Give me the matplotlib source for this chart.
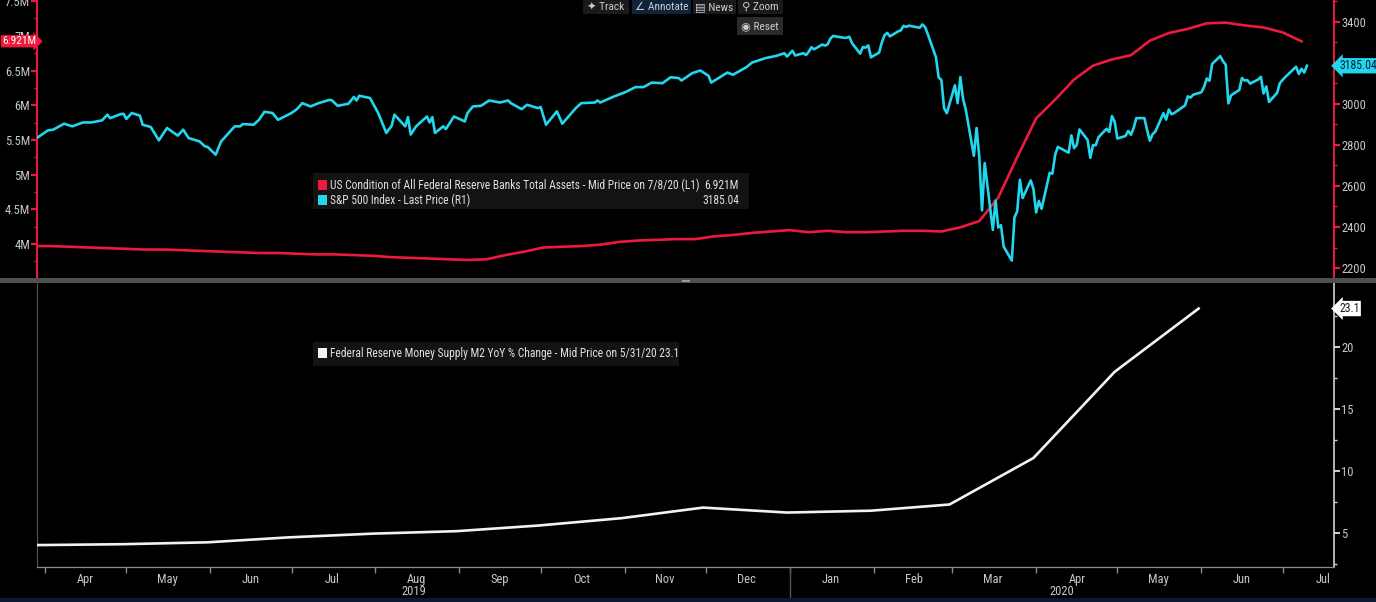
"""
Fed balance sheet vs S&P 500 (top) and M2 YoY growth (bottom),
styled like a Bloomberg terminal chart.
"""

import pandas as pd
import matplotlib
matplotlib.use("Agg")
import matplotlib.pyplot as plt
import matplotlib.dates as mdates
from matplotlib.patches import Rectangle
from matplotlib.ticker import MultipleLocator, FixedLocator, FuncFormatter, NullFormatter
from matplotlib.transforms import blended_transform_factory as blend

plt.rcParams["font.family"] = ["Roboto Condensed", "Liberation Sans Narrow",
                               "Liberation Sans", "DejaVu Sans"]

# ── Data ──────────────────────────────────────────────────────────────────────

# Fed total assets, weekly (Wednesdays), in M (millions of $mn)
fed_dates = pd.date_range("2019-03-27", "2020-07-08", freq="7D")
fed_assets = [
    3.97, 3.97, 3.96, 3.95, 3.94,
    3.93, 3.92, 3.92, 3.91, 3.90,
    3.89, 3.88, 3.87, 3.87,
    3.86, 3.85, 3.85, 3.84, 3.83,
    3.81, 3.80, 3.79, 3.78,
    3.77, 3.78, 3.84, 3.89,
    3.95, 3.96, 3.97, 3.99, 4.03,
    4.05, 4.06, 4.07, 4.07,
    4.11, 4.13, 4.16, 4.18,
    4.20, 4.17, 4.19, 4.17, 4.17,
    4.18, 4.19, 4.19, 4.18,
    4.24, 4.33, 4.67, 5.25,
    5.81, 6.08, 6.37, 6.57, 6.66,
    6.72, 6.93, 7.04, 7.10,
    7.18, 7.19, 7.15, 7.12,
    7.05, 6.921,
]

# S&P 500 closes
spx_dates = pd.to_datetime([
    "2019-03-29", "2019-04-02", "2019-04-04", "2019-04-08", "2019-04-11",
    "2019-04-15", "2019-04-18", "2019-04-22", "2019-04-24", "2019-04-25",
    "2019-04-29", "2019-04-30", "2019-05-01", "2019-05-03", "2019-05-06",
    "2019-05-07", "2019-05-10", "2019-05-13", "2019-05-16", "2019-05-20",
    "2019-05-22", "2019-05-24", "2019-05-28", "2019-05-30", "2019-05-31",
    "2019-06-03", "2019-06-05", "2019-06-10", "2019-06-12", "2019-06-13",
    "2019-06-17", "2019-06-19", "2019-06-21", "2019-06-24", "2019-06-26",
    "2019-07-01", "2019-07-03", "2019-07-05", "2019-07-08", "2019-07-11",
    "2019-07-15", "2019-07-16", "2019-07-18", "2019-07-22", "2019-07-24",
    "2019-07-25", "2019-07-26", "2019-07-30", "2019-08-02", "2019-08-05",
    "2019-08-07", "2019-08-08", "2019-08-12", "2019-08-13", "2019-08-14",
    "2019-08-16", "2019-08-20", "2019-08-21", "2019-08-22", "2019-08-23",
    "2019-08-26", "2019-08-27", "2019-08-30", "2019-09-03", "2019-09-04",
    "2019-09-06", "2019-09-09", "2019-09-12", "2019-09-16", "2019-09-19",
    "2019-09-20", "2019-09-24", "2019-09-26", "2019-09-30", "2019-10-01",
    "2019-10-03", "2019-10-07", "2019-10-09", "2019-10-14", "2019-10-16",
    "2019-10-21", "2019-10-22", "2019-10-23", "2019-10-28", "2019-11-01",
    "2019-11-05", "2019-11-08", "2019-11-11", "2019-11-15", "2019-11-18",
    "2019-11-21", "2019-11-22", "2019-11-26", "2019-11-29", "2019-12-02",
    "2019-12-03", "2019-12-09", "2019-12-11", "2019-12-16", "2019-12-18",
    "2019-12-23", "2019-12-27", "2019-12-30", "2019-12-31",
    "2020-01-02", "2020-01-03", "2020-01-06", "2020-01-07", "2020-01-08",
    "2020-01-09", "2020-01-10", "2020-01-13", "2020-01-14", "2020-01-15",
    "2020-01-16", "2020-01-17", "2020-01-21", "2020-01-22", "2020-01-23",
    "2020-01-24", "2020-01-27", "2020-01-28", "2020-01-29", "2020-01-30",
    "2020-01-31", "2020-02-03", "2020-02-04", "2020-02-05", "2020-02-06",
    "2020-02-07", "2020-02-10", "2020-02-11", "2020-02-12", "2020-02-13",
    "2020-02-14", "2020-02-18", "2020-02-19", "2020-02-20", "2020-02-21",
    "2020-02-24", "2020-02-25", "2020-02-26", "2020-02-27", "2020-02-28",
    "2020-03-02", "2020-03-03", "2020-03-04", "2020-03-05", "2020-03-06",
    "2020-03-09", "2020-03-10", "2020-03-11", "2020-03-12", "2020-03-13",
    "2020-03-16", "2020-03-17", "2020-03-18", "2020-03-19", "2020-03-20",
    "2020-03-23", "2020-03-24", "2020-03-25", "2020-03-26", "2020-03-27",
    "2020-03-30", "2020-03-31", "2020-04-01", "2020-04-02", "2020-04-03",
    "2020-04-06", "2020-04-07", "2020-04-08", "2020-04-09", "2020-04-13",
    "2020-04-14", "2020-04-15", "2020-04-16", "2020-04-17", "2020-04-20",
    "2020-04-21", "2020-04-22", "2020-04-23", "2020-04-24", "2020-04-27",
    "2020-04-28", "2020-04-29", "2020-04-30", "2020-05-01", "2020-05-04",
    "2020-05-05", "2020-05-06", "2020-05-07", "2020-05-08", "2020-05-11",
    "2020-05-12", "2020-05-13", "2020-05-14", "2020-05-15", "2020-05-18",
    "2020-05-19", "2020-05-20", "2020-05-21", "2020-05-22", "2020-05-26",
    "2020-05-27", "2020-05-28", "2020-05-29", "2020-06-01", "2020-06-02",
    "2020-06-03", "2020-06-04", "2020-06-05", "2020-06-08", "2020-06-09",
    "2020-06-10", "2020-06-11", "2020-06-12", "2020-06-15", "2020-06-16",
    "2020-06-17", "2020-06-18", "2020-06-19", "2020-06-22", "2020-06-23",
    "2020-06-24", "2020-06-25", "2020-06-26", "2020-06-29", "2020-06-30",
    "2020-07-01", "2020-07-02", "2020-07-06", "2020-07-07", "2020-07-08",
    "2020-07-09", "2020-07-10",
])
spx_close = [
    2834, 2870, 2874, 2903, 2890, 2909, 2909, 2919, 2947, 2930,
    2950, 2951, 2926, 2955, 2942, 2898, 2887, 2822, 2882, 2845,
    2874, 2833, 2817, 2793, 2790, 2752, 2817, 2890, 2890, 2901,
    2898, 2922, 2961, 2955, 2922, 2955, 2974, 3003, 2987, 3003,
    3019, 3016, 2990, 3000, 3033, 3016, 3039, 3028, 2955, 2858,
    2893, 2947, 2890, 2935, 2850, 2890, 2938, 2909, 2935, 2858,
    2890, 2877, 2938, 2914, 2955, 2987, 2990, 3016, 3006, 3016,
    3003, 2974, 2995, 2979, 2984, 2898, 2963, 2903, 2979, 3003,
    3006, 3016, 3006, 3035, 3055, 3081, 3081, 3103, 3100, 3129,
    3125, 3113, 3149, 3162, 3136, 3103, 3152, 3141, 3178, 3200,
    3222, 3233, 3246, 3230,
    3258, 3235, 3246, 3237, 3253, 3275, 3265, 3288, 3283, 3289,
    3317, 3330, 3321, 3321, 3326, 3295, 3244, 3276, 3273, 3284,
    3226, 3249, 3298, 3334, 3345, 3328, 3352, 3357, 3379, 3374,
    3380, 3370, 3386, 3373, 3338, 3226, 3128, 3116, 2979, 2954,
    3090, 3003, 3130, 3024, 2972, 2747, 2882, 2741, 2481, 2711,
    2386, 2529, 2398, 2409, 2305, 2237, 2447, 2476, 2630, 2541,
    2627, 2585, 2471, 2527, 2489, 2664, 2660, 2750, 2790, 2762,
    2846, 2784, 2800, 2875, 2824, 2737, 2799, 2798, 2837, 2878,
    2863, 2940, 2912, 2831, 2843, 2868, 2849, 2882, 2930, 2930,
    2870, 2820, 2852, 2864, 2954, 2923, 2972, 2949, 2955, 2992,
    3036, 3030, 3044, 3056, 3081, 3123, 3112, 3194, 3232, 3207,
    3190, 3002, 3041, 3067, 3125, 3113, 3115, 3098, 3118, 3131,
    3050, 3084, 3009, 3053, 3100, 3116, 3130, 3180, 3145, 3170,
    3152, 3185.04,
]

# M2 money supply YoY % change, month ends
m2_dates = pd.to_datetime([
    "2019-02-28", "2019-03-31", "2019-04-30", "2019-05-31", "2019-06-30",
    "2019-07-31", "2019-08-31", "2019-09-30", "2019-10-31", "2019-11-30",
    "2019-12-31", "2020-01-31", "2020-02-29", "2020-03-31", "2020-04-30",
    "2020-05-31",
])
m2_yoy = [4.0, 4.03, 4.1, 4.25, 4.65, 4.95, 5.15, 5.6, 6.2, 7.05,
          6.65, 6.8, 7.3, 11.05, 18.0, 23.1]

FED_LABEL = "US Condition of All Federal Reserve Banks Total Assets - Mid Price on 7/8/20 (L1)"
SPX_LABEL = "S&P 500 Index - Last Price (R1)"
M2_LABEL = "Federal Reserve Money Supply M2 YoY % Change - Mid Price on 5/31/20"

# ── Style ─────────────────────────────────────────────────────────────────────

RED = "#EE1A3E"
CYAN = "#22D6EE"
WHITE = "#F2F2F2"
TXT = "#C8C8C8"
BG = "#000000"

W, H = 1376, 602


def fx(px):
    return px / W


def fy(py):
    return 1 - py / H


fig = plt.figure(figsize=(W / 100, H / 100), dpi=100, facecolor=BG)

x0, x1 = 37, 1334
ax_l = fig.add_axes([fx(x0), fy(278), fx(x1 - x0), 278 / H], facecolor=BG)
ax_r = ax_l.twinx()
ax_b = fig.add_axes([fx(x0), fy(567), fx(x1 - x0), (567 - 283) / H], facecolor=BG)

xlim = (pd.Timestamp("2019-03-29"), pd.Timestamp("2020-07-20"))

# ── Top panel: Fed assets (L) and S&P 500 (R) ────────────────────────────────

ax_l.plot(fed_dates, fed_assets, color=RED, lw=1.9, zorder=3)
ax_r.plot(spx_dates, spx_close, color=CYAN, lw=1.9, zorder=3)

ax_l.set_xlim(*xlim)
ax_l.set_ylim(3.51, 7.516)
ax_r.set_ylim(2152, 3505)

ax_l.yaxis.set_major_locator(MultipleLocator(0.5))
ax_l.yaxis.set_minor_locator(MultipleLocator(0.25))
ax_l.yaxis.set_major_formatter(FuncFormatter(lambda v, _: f"{v:g}M"))
ax_r.yaxis.set_major_locator(MultipleLocator(200))
ax_r.yaxis.set_minor_locator(MultipleLocator(100))

for ax in (ax_l, ax_r):
    for s in ax.spines.values():
        s.set_visible(False)
    ax.tick_params(axis="x", bottom=False, labelbottom=False)
    ax.tick_params(axis="y", which="major", colors=RED, labelcolor=TXT,
                   direction="out", length=4, width=1.6, labelsize=9, pad=1)
    ax.tick_params(axis="y", which="minor", colors=RED, direction="out",
                   length=2.5, width=1)
ax_l.spines["left"].set_visible(True)
ax_l.spines["left"].set_color(RED)
ax_l.spines["left"].set_linewidth(1.4)
ax_r.spines["right"].set_visible(True)
ax_r.spines["right"].set_color(RED)
ax_r.spines["right"].set_linewidth(1.4)

# last-value tags
ax_l.text(fx(2), fed_assets[-1], f"{fed_assets[-1]:.3f}M",
          transform=blend(fig.transFigure, ax_l.transData),
          ha="left", va="center", color="white", fontsize=8.2, zorder=10,
          bbox=dict(boxstyle="rarrow,pad=0.1", fc=RED, ec="none"), clip_on=False)
ax_r.text(1.004, spx_close[-1], f"{spx_close[-1]:.2f}",
          transform=blend(ax_r.transAxes, ax_r.transData),
          ha="left", va="center", color="#0B2030", fontsize=8.5, zorder=10,
          bbox=dict(boxstyle="larrow,pad=0.1", fc=CYAN, ec="none"), clip_on=False)

# ── Bottom panel: M2 YoY ──────────────────────────────────────────────────────

ax_b.plot(m2_dates, m2_yoy, color=WHITE, lw=1.9, zorder=3)
ax_b.set_xlim(*xlim)
ax_b.set_ylim(2.26, 25.16)
ax_b.yaxis.tick_right()
ax_b.yaxis.set_major_locator(FixedLocator([5, 10, 15, 20]))
ax_b.yaxis.set_minor_locator(FixedLocator([2.5, 7.5, 12.5, 17.5, 22.5]))

ax_b.spines["top"].set_visible(False)
ax_b.spines["left"].set_color("#555555")
ax_b.spines["left"].set_linewidth(0.8)
ax_b.spines["bottom"].set_color("#8A8A8A")
ax_b.spines["bottom"].set_linewidth(0.9)
ax_b.spines["right"].set_color("#D0D0D0")
ax_b.spines["right"].set_linewidth(1.2)

ax_b.tick_params(axis="y", which="major", colors="#D0D0D0", labelcolor=TXT,
                 direction="out", length=4, width=1.4, labelsize=9, pad=1)
ax_b.tick_params(axis="y", which="minor", colors="#D0D0D0", direction="out",
                 length=2.5, width=1)

ax_b.xaxis.set_major_locator(mdates.MonthLocator())
ax_b.xaxis.set_major_formatter(NullFormatter())
ax_b.xaxis.set_minor_locator(mdates.MonthLocator(bymonthday=16))
ax_b.xaxis.set_minor_formatter(mdates.DateFormatter("%b"))
ax_b.tick_params(axis="x", which="major", colors="#8A8A8A", direction="out",
                 length=4, width=1)
ax_b.tick_params(axis="x", which="minor", length=0, labelcolor=TXT,
                 labelsize=9, pad=4)

# year labels and the year divider
year_split = pd.Timestamp("2020-01-01")
xb = blend(ax_b.transData, ax_b.transAxes)
ax_b.text(xlim[0] + (year_split - xlim[0]) / 2, -0.088, "2019", transform=xb,
          ha="center", va="center", color=TXT, fontsize=9)
ax_b.text(year_split + (xlim[1] - year_split) / 2, -0.088, "2020", transform=xb,
          ha="center", va="center", color=TXT, fontsize=9)
ax_b.axvline(year_split, ymin=-0.13, ymax=0, color="#555555", lw=1, clip_on=False)

ax_b.text(1.004, m2_yoy[-1], f"{m2_yoy[-1]:.1f}",
          transform=blend(ax_b.transAxes, ax_b.transData),
          ha="left", va="center", color="#1A1A1A", fontsize=8.5, zorder=10,
          bbox=dict(boxstyle="larrow,pad=0.1", fc="white", ec="none"), clip_on=False)

# ── Panel divider, legends, toolbar ───────────────────────────────────────────

fig.add_artist(Rectangle((0, fy(283)), 1, 5 / H, transform=fig.transFigure,
                         fc="#4E4E4E", ec="none"))
fig.add_artist(Rectangle((fx(682), fy(282)), 8 / W, 2 / H, transform=fig.transFigure,
                         fc="#9A9A9A", ec="none"))
fig.add_artist(Rectangle((0, 0), 1, 4 / H, transform=fig.transFigure,
                         fc="#0C1A30", ec="none"))


def box(x, y, w, h, colour, z=5):
    fig.add_artist(Rectangle((fx(x), fy(y + h)), w / W, h / H,
                             transform=fig.transFigure, fc=colour, ec="none", zorder=z))


def legend_row(x, y, colour, label, value=None, value_x=None):
    box(x, y - 5, 9, 10, colour, z=6)
    fig.text(fx(x + 12), fy(y), label, ha="left", va="center",
             color="#E0E0E0", fontsize=8.3, zorder=7)
    if value is not None:
        fig.text(fx(value_x), fy(y), value, ha="right", va="center",
                 color="#E0E0E0", fontsize=8.3, zorder=7)


box(313, 173, 436, 36, "#131313")
legend_row(318, 185, RED, FED_LABEL, f"{fed_assets[-1]:.3f}M", 739)
legend_row(318, 200, CYAN, SPX_LABEL, f"{spx_close[-1]:.2f}", 739)

box(313, 342, 366, 24, "#131313")
legend_row(318, 353, WHITE, f"{M2_LABEL} {m2_yoy[-1]:.1f}")

# toolbar buttons: (label, left, top, width, height, background)
toolbar = [
    ("\u2726 Track", 583, 0, 46, 14, "#1A1A1A"),
    ("\u2220 Annotate", 632, 0, 59, 14, "#10233A"),
    ("\u25A4 News", 693, 0, 43, 14, "#1A1A1A"),
    ("\u26B2 Zoom", 738, 0, 45, 14, "#1A1A1A"),
    ("\u25C9 Reset", 737, 17, 46, 18, "#2A2A2A"),
]
for label, x, y, w, h, bg in toolbar:
    box(x, y, w, h, bg, z=8)
    fig.text(fx(x + w / 2), fy(y + h / 2), label, ha="center", va="center",
             color="#C5CBD6", fontsize=8.2, zorder=9)

fig.savefig("out.png", dpi=100, facecolor=BG)
